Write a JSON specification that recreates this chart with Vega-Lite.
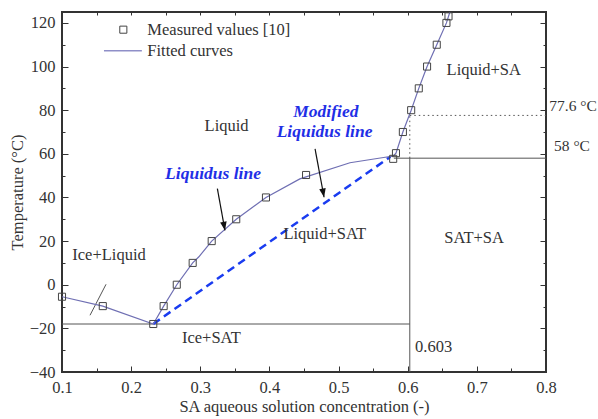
{
  "$schema": "https://vega.github.io/schema/vega-lite/v6.json",
  "width": 484,
  "height": 360,
  "autosize": "none",
  "padding": {"left": 62, "top": 12, "right": 52, "bottom": 47},
  "background": "white",
  "config": {
    "view": {"stroke": "#333", "strokeWidth": 2},
    "font": "Liberation Serif",
    "axis": {
      "grid": false,
      "domain": false,
      "labelFlush": false,
      "labelOverlap": false,
      "labelFont": "Liberation Serif",
      "labelFontSize": 16.5,
      "labelColor": "#333",
      "titleFont": "Liberation Serif",
      "titleFontSize": 16.5,
      "titleFontWeight": "normal",
      "titleColor": "#333",
      "tickColor": "#333",
      "tickWidth": 1
    }
  },
  "datasets": {
    "measured": [
      {"c": 0.1, "t": -5.5}, {"c": 0.159, "t": -9.8}, {"c": 0.232, "t": -18},
      {"c": 0.247, "t": -9.8}, {"c": 0.266, "t": 0}, {"c": 0.289, "t": 10},
      {"c": 0.3165, "t": 20}, {"c": 0.352, "t": 30}, {"c": 0.395, "t": 40},
      {"c": 0.453, "t": 50.3}, {"c": 0.579, "t": 57.7}, {"c": 0.583, "t": 60.3},
      {"c": 0.593, "t": 70}, {"c": 0.605, "t": 80}, {"c": 0.616, "t": 90},
      {"c": 0.628, "t": 100}, {"c": 0.642, "t": 110}, {"c": 0.656, "t": 120},
      {"c": 0.659, "t": 123}
    ],
    "fitted": [
      {"c": 0.1, "t": -5.5}, {"c": 0.159, "t": -9.8}, {"c": 0.232, "t": -18},
      {"c": 0.247, "t": -9.8}, {"c": 0.266, "t": 0}, {"c": 0.289, "t": 10},
      {"c": 0.298, "t": 12.8}, {"c": 0.3165, "t": 20}, {"c": 0.352, "t": 30},
      {"c": 0.395, "t": 40}, {"c": 0.444, "t": 48.5}, {"c": 0.5165, "t": 55.9},
      {"c": 0.565, "t": 58.3}, {"c": 0.579, "t": 58.9}, {"c": 0.583, "t": 60.3},
      {"c": 0.593, "t": 70}, {"c": 0.605, "t": 80}, {"c": 0.616, "t": 90},
      {"c": 0.628, "t": 100}, {"c": 0.642, "t": 110}, {"c": 0.656, "t": 120},
      {"c": 0.661, "t": 125}
    ],
    "modified": [
      {"c": 0.232, "t": -18}, {"c": 0.575, "t": 58.7}
    ],
    "solidRules": [
      {"c": 0.1, "c2": 0.603, "t": -18, "t2": -18},
      {"c": 0.58, "c2": 0.8, "t": 58, "t2": 58},
      {"c": 0.603, "c2": 0.603, "t": -40, "t2": 58},
      {"c": 0.1405, "c2": 0.1637, "t": -14, "t2": 0.2}
    ],
    "dottedRules": [
      {"c": 0.603, "c2": 0.8, "t": 77.6, "t2": 77.6},
      {"c": 0.603, "c2": 0.603, "t": 58, "t2": 77.6}
    ],
    "arrows": [
      {"c": 0.3247, "c2": 0.3357, "t": 44, "t2": 24.9, "ang": -10.5},
      {"c": 0.466, "c2": 0.479, "t": 62.3, "t2": 40.1, "ang": -10.6}
    ],
    "labels": [
      {"c": 0.338, "t": 72.9, "text": "Liquid"},
      {"c": 0.48, "t": 23.1, "text": "Liquid+SAT"},
      {"c": 0.168, "t": 13.5, "text": "Ice+Liquid"},
      {"c": 0.316, "t": -24.6, "text": "Ice+SAT"},
      {"c": 0.696, "t": 21.4, "text": "SAT+SA"},
      {"c": 0.71, "t": 98.3, "text": "Liquid+SA"}
    ],
    "leftLabels": [
      {"c": 0.6106, "t": -28.7, "text": "0.603"},
      {"c": 0.2234, "t": 116.9, "text": "Measured values [10]"},
      {"c": 0.2234, "t": 107.2, "text": "Fitted curves"}
    ],
    "outsideLabels": [
      {"c": 0.8048, "t": 82, "text": "77.6 °C"},
      {"c": 0.8116, "t": 63.5, "text": "58 °C"}
    ],
    "blueLabels": [
      {"c": 0.3184, "t": 50.8, "text": "Liquidus line"},
      {"c": 0.4816, "t": 79, "text": "Modified"},
      {"c": 0.4797, "t": 69.9, "text": "Liquidus line"}
    ],
    "legendSymbol": [{"c": 0.1887, "t": 116.9}],
    "legendLine": [{"c": 0.1607, "t": 107.2}, {"c": 0.2155, "t": 107.2}]
  },
  "layer": [
    {
      "data": {"name": "solidRules"},
      "mark": {"type": "rule", "color": "#555", "strokeWidth": 1},
      "encoding": {
        "x": {
          "field": "c", "type": "quantitative",
          "scale": {"domain": [0.1, 0.8], "nice": false, "zero": false},
          "axis": {
            "orient": "bottom",
            "title": "SA aqueous solution concentration (-)",
            "values": [0.1, 0.15, 0.2, 0.25, 0.3, 0.35, 0.4, 0.45, 0.5, 0.55, 0.6, 0.65, 0.7, 0.75, 0.8],
            "labelExpr": "round(datum.value*100) % 10 === 0 ? format(datum.value, '.1f') : ''",
            "tickSize": {"condition": {"test": "round(datum.value*100) % 10 === 0", "value": -6}, "value": -4},
            "labelPadding": 13,
            "titlePadding": 1
          }
        },
        "x2": {"field": "c2"},
        "y": {
          "field": "t", "type": "quantitative",
          "scale": {"domain": [-40, 125], "nice": false, "zero": false},
          "axis": {
            "orient": "left",
            "title": "Temperature (°C)",
            "values": [-40, -30, -20, -10, 0, 10, 20, 30, 40, 50, 60, 70, 80, 90, 100, 110, 120],
            "labelExpr": "datum.value % 20 === 0 ? datum.label : ''",
            "tickSize": {"condition": {"test": "datum.value % 20 === 0", "value": -6}, "value": -3},
            "labelPadding": 13,
            "titlePadding": 4
          }
        },
        "y2": {"field": "t2"}
      }
    },
    {
      "data": {"name": "dottedRules"},
      "mark": {"type": "rule", "color": "#555", "strokeWidth": 1, "strokeDash": [1.5, 3]},
      "encoding": {
        "x": {
          "field": "c", "type": "quantitative",
          "axis": {
            "orient": "top", "title": null, "labels": false,
            "values": [0.1, 0.15, 0.2, 0.25, 0.3, 0.35, 0.4, 0.45, 0.5, 0.55, 0.6, 0.65, 0.7, 0.75, 0.8],
            "tickSize": -3
          }
        },
        "x2": {"field": "c2"},
        "y": {
          "field": "t", "type": "quantitative",
          "axis": {
            "orient": "right", "title": null, "labels": false,
            "values": [-40, -30, -20, -10, 0, 10, 20, 30, 40, 50, 60, 70, 80, 90, 100, 110, 120],
            "tickSize": {"condition": {"test": "datum.value % 20 === 0", "value": -6}, "value": -3}
          }
        },
        "y2": {"field": "t2"}
      }
    },
    {
      "data": {"name": "modified"},
      "mark": {"type": "line", "color": "#1a3cf0", "strokeWidth": 2.5, "strokeDash": [8, 5]},
      "encoding": {
        "x": {"field": "c", "type": "quantitative", "axis": null},
        "y": {"field": "t", "type": "quantitative", "axis": null}
      }
    },
    {
      "data": {"name": "fitted"},
      "mark": {"type": "line", "color": "#6f6fb3", "strokeWidth": 1.2, "clip": true},
      "encoding": {
        "x": {"field": "c", "type": "quantitative", "axis": null},
        "y": {"field": "t", "type": "quantitative", "axis": null}
      }
    },
    {
      "data": {"name": "measured"},
      "mark": {"type": "point", "shape": "square", "size": 50, "filled": false, "color": "#444", "strokeWidth": 1, "opacity": 1},
      "encoding": {
        "x": {"field": "c", "type": "quantitative", "axis": null},
        "y": {"field": "t", "type": "quantitative", "axis": null}
      }
    },
    {
      "data": {"name": "arrows"},
      "mark": {"type": "rule", "color": "#111", "strokeWidth": 1.2},
      "encoding": {
        "x": {"field": "c", "type": "quantitative", "axis": null},
        "x2": {"field": "c2"},
        "y": {"field": "t", "type": "quantitative", "axis": null},
        "y2": {"field": "t2"}
      }
    },
    {
      "data": {"name": "arrows"},
      "mark": {"type": "point", "shape": "M0,0L-0.38,-1L0.38,-1Z", "size": 300, "filled": true, "color": "#111", "opacity": 1},
      "encoding": {
        "x": {"field": "c2", "type": "quantitative", "axis": null},
        "y": {"field": "t2", "type": "quantitative", "axis": null},
        "angle": {"field": "ang", "type": "quantitative", "scale": null}
      }
    },
    {
      "data": {"name": "labels"},
      "mark": {"type": "text", "font": "Liberation Serif", "fontSize": 16.5, "color": "#333", "align": "center", "baseline": "middle"},
      "encoding": {
        "x": {"field": "c", "type": "quantitative", "axis": null},
        "y": {"field": "t", "type": "quantitative", "axis": null},
        "text": {"field": "text"}
      }
    },
    {
      "data": {"name": "leftLabels"},
      "mark": {"type": "text", "font": "Liberation Serif", "fontSize": 16.5, "color": "#333", "align": "left", "baseline": "middle", "clip": false},
      "encoding": {
        "x": {"field": "c", "type": "quantitative", "axis": null},
        "y": {"field": "t", "type": "quantitative", "axis": null},
        "text": {"field": "text"}
      }
    },
    {
      "data": {"name": "outsideLabels"},
      "mark": {"type": "text", "font": "Liberation Serif", "fontSize": 15.5, "color": "#333", "align": "left", "baseline": "middle", "clip": false},
      "encoding": {
        "x": {"field": "c", "type": "quantitative", "axis": null},
        "y": {"field": "t", "type": "quantitative", "axis": null},
        "text": {"field": "text"}
      }
    },
    {
      "data": {"name": "blueLabels"},
      "mark": {"type": "text", "font": "Liberation Serif", "fontSize": 17.5, "fontStyle": "italic", "fontWeight": "bold", "color": "#1f2fe6", "align": "center", "baseline": "middle"},
      "encoding": {
        "x": {"field": "c", "type": "quantitative", "axis": null},
        "y": {"field": "t", "type": "quantitative", "axis": null},
        "text": {"field": "text"}
      }
    },
    {
      "data": {"name": "legendSymbol"},
      "mark": {"type": "point", "shape": "square", "size": 50, "filled": false, "color": "#444", "strokeWidth": 1, "opacity": 1},
      "encoding": {
        "x": {"field": "c", "type": "quantitative", "axis": null},
        "y": {"field": "t", "type": "quantitative", "axis": null}
      }
    },
    {
      "data": {"name": "legendLine"},
      "mark": {"type": "line", "color": "#8f8fc8", "strokeWidth": 1.5},
      "encoding": {
        "x": {"field": "c", "type": "quantitative", "axis": null},
        "y": {"field": "t", "type": "quantitative", "axis": null}
      }
    }
  ],
  "resolve": {"axis": {"x": "independent", "y": "independent"}}
}
